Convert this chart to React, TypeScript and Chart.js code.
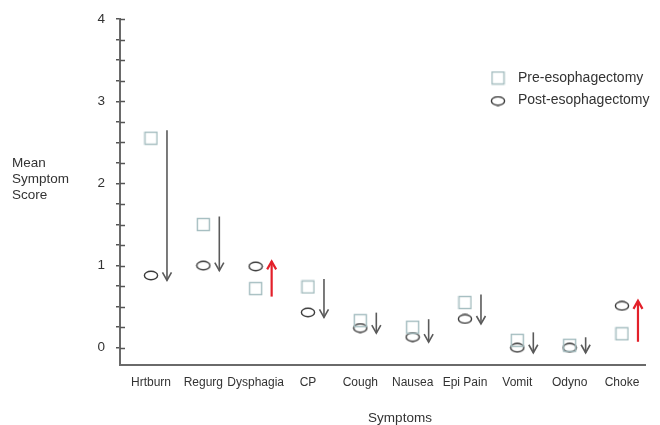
import React, { useEffect, useRef } from "react";
import { Chart, registerables } from "chart.js";

Chart.register(...registerables);

const categories = ["Hrtburn", "Regurg", "Dysphagia", "CP", "Cough", "Nausea", "Epi Pain", "Vomit", "Odyno", "Choke"];
const preValues = [2.55, 1.5, 0.72, 0.74, 0.33, 0.25, 0.55, 0.09, 0.03, 0.17];
const postValues = [0.88, 1.0, 0.99, 0.43, 0.24, 0.13, 0.35, 0.0, 0.0, 0.51];
const yTickValues = [0, 0.25, 0.5, 0.75, 1, 1.25, 1.5, 1.75, 2, 2.25, 2.5, 2.75, 3, 3.25, 3.5, 3.75, 4];
const yLabelValues = [0, 1, 2, 3, 4];
const seriesNames = ["Pre-esophagectomy", "Post-esophagectomy"];
const yTitleLines = ["Mean", "Symptom", "Score"];
const xTitle = "Symptoms";

const FONT = "'Liberation Sans', Arial, sans-serif";
const TEXT = "#333";
const SQUARE_COLOR = "#a3bcbf";
const ELLIPSE_COLOR = "#3a3a3a";
const DOWN_COLOR = "#5a5a5a";
const UP_COLOR = "#e3202a";

function makeSquare(): HTMLCanvasElement {
  const c = document.createElement("canvas");
  c.width = 15;
  c.height = 15;
  const ctx = c.getContext("2d")!;
  ctx.strokeStyle = SQUARE_COLOR;
  ctx.lineWidth = 1.4;
  ctx.strokeRect(1.5, 1.5, 12, 12);
  return c;
}

function makeEllipse(): HTMLCanvasElement {
  const c = document.createElement("canvas");
  c.width = 16;
  c.height = 11;
  const ctx = c.getContext("2d")!;
  ctx.strokeStyle = ELLIPSE_COLOR;
  ctx.lineWidth = 1.4;
  ctx.beginPath();
  ctx.ellipse(8, 5.5, 6.6, 4.2, 0, 0, Math.PI * 2);
  ctx.stroke();
  return c;
}

export default function App() {
  const canvasRef = useRef<HTMLCanvasElement | null>(null);

  useEffect(() => {
    const canvas = canvasRef.current;
    if (!canvas) return;
    const squareImg = makeSquare();
    const ellipseImg = makeEllipse();

    const decorations = {
      id: "decorations",
      afterDatasetsDraw(chart: any) {
        const ctx = chart.ctx;
        const xs = chart.scales.x;
        const ys = chart.scales.y;
        const area = chart.chartArea;
        ctx.save();
        // inner halves of y tick marks
        ctx.strokeStyle = "#555";
        ctx.lineWidth = 1.5;
        yTickValues.forEach((v) => {
          const y = Math.round(ys.getPixelForValue(v)) + 0.5;
          ctx.beginPath();
          ctx.moveTo(area.left, y);
          ctx.lineTo(area.left + 5, y);
          ctx.stroke();
        });
        // arrows
        categories.forEach((_, i) => {
          const x = xs.getPixelForValue(i) + 16;
          const y1 = ys.getPixelForValue(preValues[i]);
          const y2 = ys.getPixelForValue(postValues[i]);
          const dir = y2 > y1 ? 1 : -1;
          const start = y1 - dir * 8;
          const end = y2 + dir * 5;
          ctx.strokeStyle = dir > 0 ? DOWN_COLOR : UP_COLOR;
          ctx.lineWidth = dir > 0 ? 1.6 : 2.2;
          ctx.beginPath();
          ctx.moveTo(x, start);
          ctx.lineTo(x, end);
          ctx.stroke();
          ctx.beginPath();
          ctx.moveTo(x - 4.5, end - dir * 8);
          ctx.lineTo(x, end);
          ctx.lineTo(x + 4.5, end - dir * 8);
          ctx.stroke();
        });
        // legend
        ctx.font = `14px ${FONT}`;
        ctx.fillStyle = TEXT;
        ctx.textBaseline = "middle";
        ctx.textAlign = "left";
        ctx.drawImage(squareImg, 498 - 7.5, 78 - 7.5);
        ctx.fillText(seriesNames[0], 518, 78);
        ctx.drawImage(ellipseImg, 498 - 8, 101 - 5.5);
        ctx.fillText(seriesNames[1], 518, 100);
        // y title (horizontal, stacked)
        ctx.font = `13.5px ${FONT}`;
        yTitleLines.forEach((t, k) => {
          ctx.fillText(t, 12, 163 + k * 16);
        });
        // x title
        ctx.textAlign = "center";
        ctx.fillText(xTitle, 400, 418);
        ctx.restore();
      },
    };

    const chart = new Chart(canvas, {
      type: "scatter",
      data: {
        datasets: [
          {
            label: seriesNames[0],
            data: preValues.map((v, i) => ({ x: i, y: v })),
            pointStyle: squareImg as any,
            pointRadius: 6,
            showLine: false,
          },
          {
            label: seriesNames[1],
            data: postValues.map((v, i) => ({ x: i, y: v })),
            pointStyle: ellipseImg as any,
            pointRadius: 6,
            showLine: false,
          },
        ],
      },
      options: {
        responsive: false,
        animation: false,
        layout: { padding: { top: 19, right: 15, left: 0, bottom: 0 } },
        plugins: { legend: { display: false }, tooltip: { enabled: false } },
        scales: {
          x: {
            type: "linear",
            min: -0.592,
            max: 9.44,
            afterBuildTicks: (scale: any) => {
              scale.ticks = categories.map((_, i) => ({ value: i }));
            },
            afterFit: (scale: any) => {
              scale.height = 60;
            },
            ticks: {
              autoSkip: false,
              maxRotation: 0,
              minRotation: 0,
              padding: 10,
              color: TEXT,
              font: { family: FONT, size: 12 },
              callback: (v: any) => categories[v] ?? "",
            },
            grid: { display: false, drawTicks: false },
            border: { display: true, color: "#6a6a6a", width: 2 },
          },
          y: {
            type: "linear",
            min: -0.21,
            max: 4,
            afterBuildTicks: (scale: any) => {
              scale.ticks = yTickValues.map((v) => ({ value: v }));
            },
            afterFit: (scale: any) => {
              scale.width = 120;
            },
            ticks: {
              autoSkip: false,
              padding: 11,
              color: TEXT,
              font: { family: FONT, size: 13.5 },
              callback: (v: any) => (yLabelValues.includes(v) ? String(v) : ""),
            },
            grid: { drawOnChartArea: false, drawTicks: true, tickLength: 4, color: "#555", lineWidth: 1.5 },
            border: { display: true, color: "#6a6a6a", width: 2 },
          },
        },
      },
      plugins: [decorations],
    });

    return () => chart.destroy();
  }, []);

  return (
    <div style={{ position: "fixed", left: 0, top: 0, width: 660, height: 425, background: "#fff" }}>
      <canvas ref={canvasRef} width={660} height={425} />
    </div>
  );
}
